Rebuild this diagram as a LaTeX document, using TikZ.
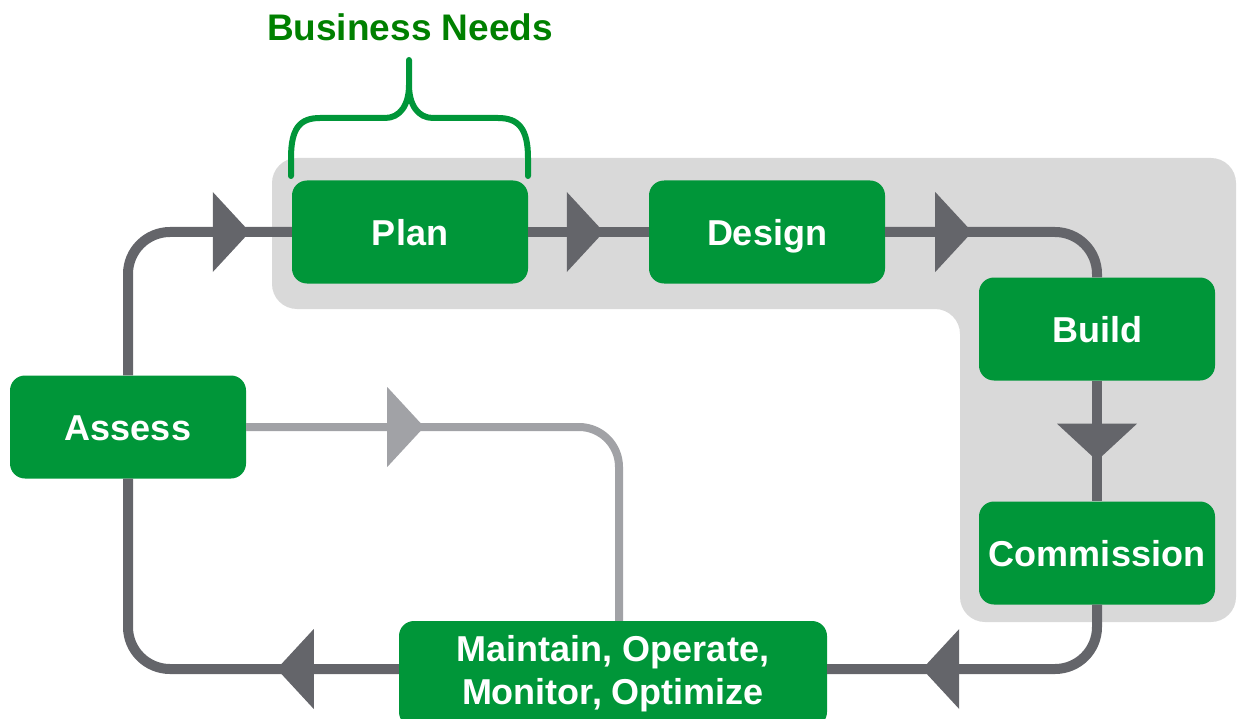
\documentclass[tikz,border=0pt]{standalone}
\usepackage{fontspec}
\setmainfont{Liberation Sans}
\usetikzlibrary{arrows.meta,decorations.markings}
\definecolor{stage-green}{RGB}{0,150,57}
\definecolor{needs-green}{RGB}{0,128,0}
\definecolor{loop-gray}{RGB}{100,101,106}
\definecolor{feedback-gray}{RGB}{161,162,166}
\definecolor{band-gray}{RGB}{217,217,217}
\tikzset{
    box-base/.style = {fill=stage-green, text=white, rounded corners=15pt, minimum width=236pt, minimum height=103pt, inner sep=4pt, align=center, font=\bfseries\fontsize{36}{43}\selectfont},
    stage-box/.style = {box-base, text height=26pt, text depth=0pt},
    loop-line/.style = {draw=loop-gray, line width=10pt, rounded corners=42pt},
    feedback-line/.style = {draw=feedback-gray, line width=8pt, rounded corners=40pt},
    flow-tip/.style = {postaction={decorate}, decoration={markings, mark=at position #1 with {\arrow{Triangle[length=37pt,width=80pt,line width=0pt]}}}},
    needs-brace/.style = {draw=stage-green, line width=6pt, line cap=round, line join=round},
}

\begin{document}
\begin{tikzpicture}[x=1pt,y=-1pt]
\useasboundingbox (0,0) rectangle (1238,719);
\fill[band-gray, rounded corners=25pt] (272,158) -- (1236,158) -- (1236,622) -- (960,622) -- (960,309) -- (272,309) -- cycle;

\node[stage-box] (assess) at (128,427) {Assess};
\node[stage-box] (plan) at (410,232) {Plan};
\node[stage-box] (design) at (767,232) {Design};
\node[stage-box] (build) at (1097,329) {Build};
\node[stage-box] (commission) at (1097,553) {Commission};
\node[box-base, minimum width=428pt, minimum height=106pt] (maintain) at (613,674) {Maintain, Operate,\\Monitor, Optimize};

\node[font=\bfseries\fontsize{37}{40}\selectfont, text=needs-green] (needs) at (410,27) {Business Needs};
\draw[needs-brace] (291,176) -- (291,158) .. controls (291,128) and (300,118) .. (320,118) -- (385,118) .. controls (400,118) and (409,105) .. (409,85) -- (409,60)
    (409,85) .. controls (409,105) and (418,118) .. (433,118) -- (498,118) .. controls (518,118) and (528,128) .. (528,158) -- (528,176);

\draw[loop-line, flow-tip=-42pt] (assess.north) |- (plan.west);
\draw[loop-line, flow-tip=-45pt] (plan.east) -- (design.west);
\draw[loop-line, flow-tip=87pt] (design.east) -| (build.north);
\draw[loop-line, flow-tip=80pt] (build.south) -- (commission.north);
\draw[loop-line, flow-tip=-95pt] (commission.south) |- (maintain.east |- 0,669);
\draw[loop-line, flow-tip=122pt] (maintain.west |- 0,669) -| (assess.south);
\draw[feedback-line, flow-tip=178pt] (assess.east) -| ([xshift=6pt]maintain.north);
\end{tikzpicture}
\end{document}
